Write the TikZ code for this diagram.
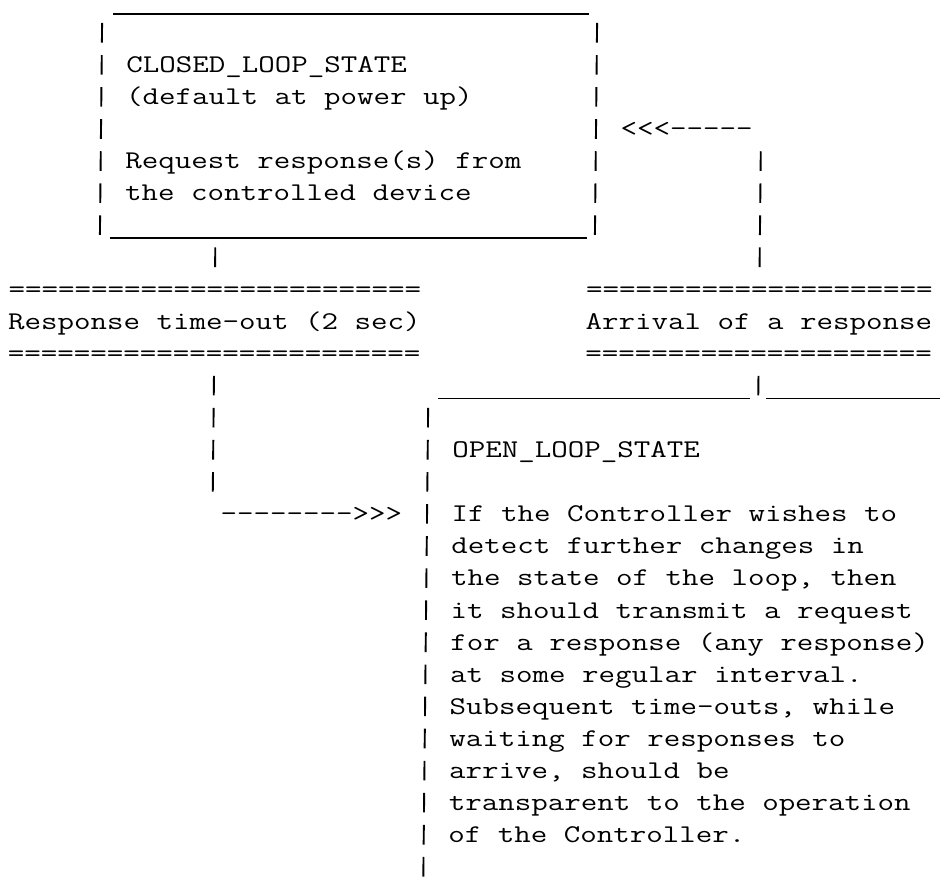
\documentclass[tikz,border=0pt]{standalone}
\usepackage{graphicx}
\newlength\cw
\tikzset{
  txt/.style={anchor=base west, inner sep=0pt, outer sep=0pt, font=\fontsize{25.5}{30}\selectfont\ttfamily},
  barline/.style={line width=1.9pt, dash pattern=on 19.6pt off 12.48pt},
  rule/.style={line width=1.8pt},
}
\AtBeginDocument{%
  \settowidth\cw{\fontsize{25.5}{30}\selectfont\ttfamily M}%
  \pgfmathsetmacro\sx{16.5/\cw}%
  \xdef\sx{\sx}}
\newcommand\mtext[1]{\scalebox{\sx}[1]{#1}}
\begin{document}
\begin{tikzpicture}
\fill[white] (0,0) rectangle (940pt,-877pt);
\useasboundingbox (0,0) rectangle (940pt,-877pt);
\begin{scope}[shift={(11.5pt,-8.5pt)}, x=16.5pt, y={(-0.33pt,-32.08pt)}]
% ---- CLOSED_LOOP_STATE box
\coordinate (cTL) at (6.15,0.16);
\coordinate (cTR) at (35,0.16);
\coordinate (cBL) at (6.1,7.16);
\coordinate (cBR) at (35,7.16);
\draw[rule] (cTL) -- (cTR);
\draw[rule] (cBL) -- (cBR);
\coordinate (cL1) at (5.5,0.45);  \coordinate (cL2) at (5.5,7.06);
\coordinate (cR1) at (35.5,0.45); \coordinate (cR2) at (35.5,7.06);
\draw[barline] (cL1) -- (cL2);
\draw[barline] (cR1) -- (cR2);
\node[txt] (closedtitle) at (7,2) {\mtext{CLOSED\_LOOP\_STATE}};
\node[txt] (closeddefault) at (7,3) {\mtext{(default at power up)}};
\node[txt] (closedreq1) at (7,5) {\mtext{Request response(s) from}};
\node[txt] (closedreq2) at (7,6) {\mtext{the controlled device}};
% ---- return arrow
\node[txt] (backarrow) at (37,4) {\mtext{<{}<{}<-{}-{}-{}-{}-}};
\coordinate (rA) at (45.5,4.45); \coordinate (rB) at (45.5,8.06);
\draw[barline] (rA) -- (rB);
\coordinate (rC) at (45.5,11.45); \coordinate (rD) at (45.5,12.06);
\draw[barline] (rC) -- (rD);
% ---- labels
\node[txt] (tmoA) at (0,9) {\mtext{=========================}};
\node[txt] (timeout) at (0,10) {\mtext{Response time-out (2 sec)}};
\node[txt] (tmoB) at (0,11) {\mtext{=========================}};
\node[txt] (arrA) at (35,9) {\mtext{=====================}};
\node[txt] (arrival) at (35,10) {\mtext{Arrival of a response}};
\node[txt] (arrB) at (35,11) {\mtext{=====================}};
% ---- left connector
\coordinate (lA) at (12.5,7.45); \coordinate (lB) at (12.5,8.06);
\draw[barline] (lA) -- (lB);
\coordinate (lC) at (12.5,11.45); \coordinate (lD) at (12.5,15.06);
\draw[barline] (lC) -- (lD);
\node[txt] (fwdarrow) at (13,16) {\mtext{-{}-{}-{}-{}-{}-{}-{}->{}>{}>}};
% ---- OPEN_LOOP_STATE box
\coordinate (oT1) at (26.1,12.16); \coordinate (oT2) at (45,12.16);
\coordinate (oT3) at (46,12.16);   \coordinate (oT4) at (57.5,12.16);
\draw[rule] (oT1) -- (oT2);
\draw[rule] (oT3) -- (oT4);
\coordinate (oL1) at (25.5,12.45); \coordinate (oL2) at (25.5,27.06);
\draw[barline] (oL1) -- (oL2);
\node[txt] (opentitle) at (27,14) {\mtext{OPEN\_LOOP\_STATE}};
\node[txt] (open1) at (27,16) {\mtext{If the Controller wishes to}};
\node[txt] (open2) at (27,17) {\mtext{detect further changes in}};
\node[txt] (open3) at (27,18) {\mtext{the state of the loop, then}};
\node[txt] (open4) at (27,19) {\mtext{it should transmit a request}};
\node[txt] (open5) at (27,20) {\mtext{for a response (any response)}};
\node[txt] (open6) at (27,21) {\mtext{at some regular interval.}};
\node[txt] (open7) at (27,22) {\mtext{Subsequent time-outs, while}};
\node[txt] (open8) at (27,23) {\mtext{waiting for responses to}};
\node[txt] (open9) at (27,24) {\mtext{arrive, should be}};
\node[txt] (open10) at (27,25) {\mtext{transparent to the operation}};
\node[txt] (open11) at (27,26) {\mtext{of the Controller.}};
\end{scope}
\end{tikzpicture}
\end{document}
